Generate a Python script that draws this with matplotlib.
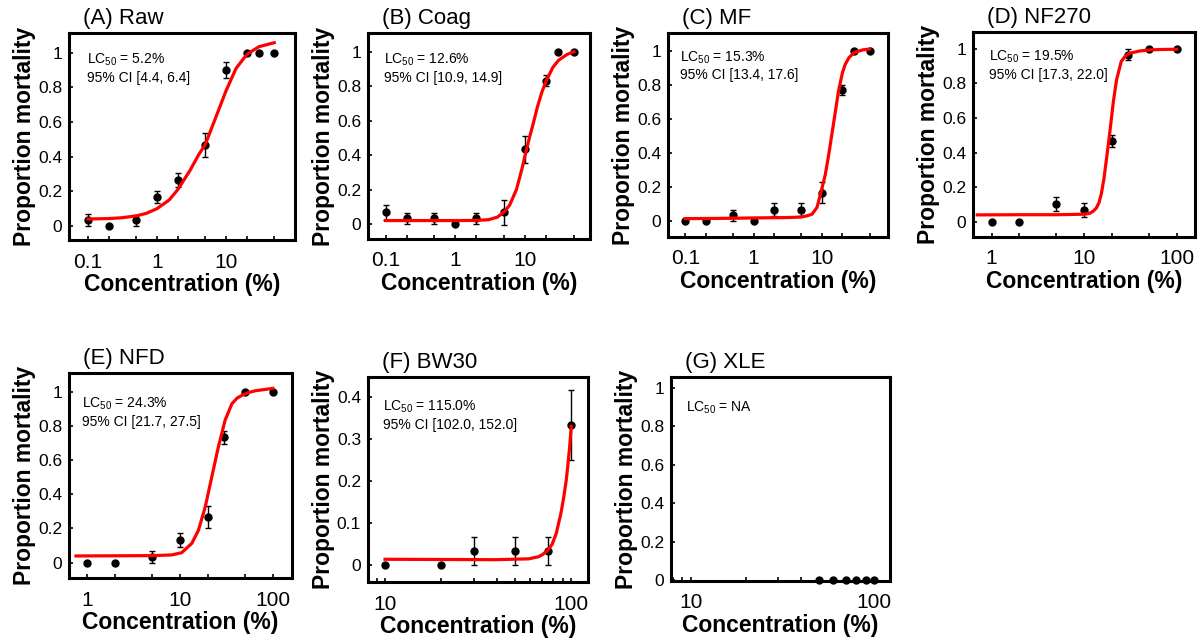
import numpy as np
import matplotlib
matplotlib.use("Agg")
import matplotlib.pyplot as plt
from matplotlib.ticker import LogLocator, NullFormatter

plt.rcParams["font.family"] = ["Liberation Sans", "DejaVu Sans"]
plt.rcParams["mathtext.fontset"] = "custom"
plt.rcParams["mathtext.rm"] = "Liberation Sans"
plt.rcParams["mathtext.default"] = "regular"

# ---- data ----
raw_x = [0.1, 0.2, 0.5, 1, 2, 5, 10, 20, 30, 50]
raw_y = [0.033, 0, 0.033, 0.167, 0.267, 0.467, 0.9, 1, 1, 1]
raw_err = [0.035, 0, 0.033, 0.037, 0.04, 0.07, 0.045, 0, 0, 0]
raw_fit_x = [0.1, 0.2, 0.3, 0.5, 0.7, 1, 1.5, 2, 3, 4, 5, 7, 10, 14, 20, 30, 50]
raw_fit_y = [0.040, 0.043, 0.047, 0.058, 0.073, 0.100, 0.150, 0.210, 0.320,
             0.410, 0.470, 0.620, 0.780, 0.910, 0.990, 1.035, 1.058]

coag_x = [0.1, 0.2, 0.5, 1, 2, 5, 10, 20, 30, 50]
coag_y = [0.067, 0.033, 0.033, 0, 0.033, 0.067, 0.433, 0.833, 1, 1]
coag_err = [0.045, 0.033, 0.033, 0, 0.033, 0.07, 0.08, 0.03, 0, 0]
coag_fit_x = [0.1, 0.5, 1, 2, 3, 4, 5, 6, 7.5, 9, 10, 11.5, 13, 15, 17.5, 20,
              25, 30, 40, 50]
coag_fit_y = [0.02, 0.02, 0.02, 0.021, 0.025, 0.04, 0.07, 0.11, 0.2, 0.32, 0.40,
              0.5, 0.58, 0.68, 0.77, 0.83, 0.91, 0.95, 0.985, 1.0]

mf_x = [0.1, 0.2, 0.5, 1, 2, 5, 10, 20, 30, 50]
mf_y = [0, 0, 0.033, 0, 0.067, 0.067, 0.167, 0.767, 1, 1]
mf_err = [0, 0, 0.033, 0, 0.04, 0.04, 0.06, 0.03, 0, 0]
mf_fit_x = [0.1, 0.5, 1, 3, 5, 6, 7.2, 8.5, 10, 11.2, 12.5, 14.8, 17.5, 20, 22,
            25, 30, 40, 50]
mf_fit_y = [0.014, 0.016, 0.018, 0.02, 0.023, 0.03, 0.04, 0.08, 0.19, 0.27,
            0.38, 0.57, 0.76, 0.87, 0.92, 0.96, 0.99, 1.005, 1.01]

nf270_x = [1, 2, 5, 10, 20, 30, 50, 100]
nf270_y = [0, 0, 0.1, 0.067, 0.467, 0.967, 1, 1]
nf270_err = [0, 0, 0.04, 0.04, 0.035, 0.03, 0, 0]
nf270_fit_x = [0.7, 2, 5, 10, 11.5, 12.5, 13.5, 14.5, 15.4, 16.4, 17.4, 18.9,
               20.6, 22.4, 25.2, 28, 31, 40, 51, 70, 100]
nf270_fit_y = [0.039, 0.04, 0.04, 0.043, 0.048, 0.06, 0.077, 0.11, 0.164, 0.25,
               0.357, 0.51, 0.685, 0.82, 0.927, 0.96, 0.975, 0.988, 0.994,
               0.997, 0.998]

nfd_x = [1, 2, 5, 10, 20, 30, 50, 100]
nfd_y = [0, 0, 0.033, 0.133, 0.267, 0.733, 1, 1]
nfd_err = [0, 0, 0.035, 0.04, 0.065, 0.04, 0, 0]
nfd_fit_x = [0.755, 2, 5, 8.1, 10.4, 13.4, 15.8, 18.7, 22, 25.9, 30.6, 36.2,
             41, 46.6, 55, 64.6, 100]
nfd_fit_y = [0.039, 0.04, 0.041, 0.045, 0.058, 0.113, 0.19, 0.327, 0.503,
             0.678, 0.834, 0.93, 0.962, 0.98, 0.996, 1.006, 1.02]

bw30_x = [10, 20, 30, 50, 75, 100]
bw30_y = [0, 0, 0.033, 0.033, 0.033, 0.333]
bw30_err = [0, 0, 0.033, 0.033, 0.033, 0.083]
bw30_fit_x = [10, 39, 59, 66.7, 70, 75, 79, 83, 88, 91, 94, 96, 98, 100]
bw30_fit_y = [0.014, 0.013, 0.015, 0.02, 0.025, 0.036, 0.05, 0.075, 0.123,
              0.16, 0.202, 0.24, 0.28, 0.33]

xle_x = [50, 60, 70, 80, 90, 100]
xle_y = [0, 0, 0, 0, 0, 0]

titles = ["(A) Raw", "(B) Coag", "(C) MF", "(D) NF270", "(E) NFD", "(F) BW30", "(G) XLE"]
lc50_text = ["5.2%", "12.6%", "15.3%", "19.5%", "24.3%", "115.0%", "NA"]
ci_text = ["95% CI [4.4, 6.4]", "95% CI [10.9, 14.9]", "95% CI [13.4, 17.6]",
           "95% CI [17.3, 22.0]", "95% CI [21.7, 27.5]", "95% CI [102.0, 152.0]", ""]

yticks_full = [0, 0.2, 0.4, 0.6, 0.8, 1]
yticklabels_full = ["0", "0.2", "0.4", "0.6", "0.8", "1"]
yticks_bw30 = [0, 0.1, 0.2, 0.3, 0.4]
yticklabels_bw30 = ["0", "0.1", "0.2", "0.3", "0.4"]
xticks_low = [0.1, 1, 10]
xticklabels_low = ["0.1", "1", "10"]
xticks_mid = [1, 10, 100]
xticklabels_mid = ["1", "10", "100"]
xticks_high = [10, 100]
xticklabels_high = ["10", "100"]

W, H = 1201, 642
fig = plt.figure(figsize=(W / 100, H / 100), dpi=100)


def box(l, t, r, b):
    return [l / W, 1 - b / H, (r - l) / W, (b - t) / H]


panels = [
    dict(pos=box(69, 33, 295, 240), x=raw_x, y=raw_y, err=raw_err, fx=raw_fit_x, fy=raw_fit_y,
         xlim=(0.053, 100), ylim=(-0.081, 1.114), xt=xticks_low, xtl=xticklabels_low,
         yt=yticks_full, ytl=yticklabels_full, subs=(2, 5), tx=0.08, ty=0.87),
    dict(pos=box(368, 33, 590, 239), x=coag_x, y=coag_y, err=coag_err, fx=coag_fit_x, fy=coag_fit_y,
         xlim=(0.056, 85), ylim=(-0.087, 1.109), xt=xticks_low, xtl=xticklabels_low,
         yt=yticks_full, ytl=yticklabels_full, subs=(2, 5), tx=0.072, ty=0.87),
    dict(pos=box(668, 33, 888, 237), x=mf_x, y=mf_y, err=mf_err, fx=mf_fit_x, fy=mf_fit_y,
         xlim=(0.056, 93), ylim=(-0.094, 1.104), xt=xticks_low, xtl=xticklabels_low,
         yt=yticks_full, ytl=yticklabels_full, subs=(2, 5), tx=0.055, ty=0.88),
    dict(pos=box(973, 32, 1195, 237), x=nf270_x, y=nf270_y, err=nf270_err, fx=nf270_fit_x, fy=nf270_fit_y,
         xlim=(0.63, 158), ylim=(-0.089, 1.098), xt=xticks_mid, xtl=xticklabels_mid,
         yt=yticks_full, ytl=yticklabels_full, subs=(2, 5), tx=0.072, ty=0.88),
    dict(pos=box(69, 373, 292, 578), x=nfd_x, y=nfd_y, err=nfd_err, fx=nfd_fit_x, fy=nfd_fit_y,
         xlim=(0.635, 161), ylim=(-0.09, 1.11), xt=xticks_mid, xtl=xticklabels_mid,
         yt=yticks_full, ytl=yticklabels_full, subs=(2, 5), tx=0.058, ty=0.85),
    dict(pos=box(368, 377, 588, 582), x=bw30_x, y=bw30_y, err=bw30_err, fx=bw30_fit_x, fy=bw30_fit_y,
         xlim=(8.1, 123), ylim=(-0.04, 0.447), xt=xticks_high, xtl=xticklabels_high,
         yt=yticks_bw30, ytl=yticklabels_bw30, subs=tuple(range(2, 10)), tx=0.068, ty=0.854),
    dict(pos=box(671, 377, 890, 581), x=xle_x, y=xle_y, err=None, fx=None, fy=None,
         xlim=(7.8, 122), ylim=(-0.005, 1.057), xt=xticks_high, xtl=xticklabels_high,
         yt=yticks_full, ytl=yticklabels_full, subs=tuple(range(2, 10)), tx=0.068, ty=0.85),
]

for i, p in enumerate(panels):
    ax = fig.add_axes(p["pos"])
    ax.set_xscale("log")
    if p["err"] is not None:
        ax.errorbar(p["x"], p["y"], yerr=p["err"], fmt="o", color="black", ms=5,
                    capsize=2.5, elinewidth=1, capthick=1, zorder=2)
    else:
        ax.plot(p["x"], p["y"], "o", color="black", ms=5, zorder=2, clip_on=False)
    if p["fx"] is not None:
        ax.plot(p["fx"], p["fy"], color="#ff0000", lw=2.3, zorder=3)

    ax.set_xlim(p["xlim"])
    ax.set_ylim(p["ylim"])
    ax.set_xticks(p["xt"])
    ax.set_xticklabels(p["xtl"])
    ax.xaxis.set_minor_locator(LogLocator(base=10, subs=p["subs"], numticks=20))
    ax.xaxis.set_minor_formatter(NullFormatter())
    ax.set_yticks(p["yt"])
    ax.set_yticklabels(p["ytl"])

    ax.tick_params(axis="both", which="both", direction="in", length=3, width=1.2)
    ax.tick_params(axis="x", which="major", labelsize=15, pad=9)
    ax.tick_params(axis="y", which="major", labelsize=12.5, pad=5)
    for s in ax.spines.values():
        s.set_linewidth(2.2)

    ax.set_xlabel("Concentration (%)", fontsize=16.5, fontweight="bold", labelpad=1)
    ax.set_ylabel("Proportion mortality", fontsize=16.5, fontweight="bold", labelpad=1.5)

    ax.text(0.063, 1.02, titles[i], transform=ax.transAxes, fontsize=16, va="bottom", ha="left")
    ax.text(p["tx"], p["ty"], "LC$_{50}$ = " + lc50_text[i], transform=ax.transAxes,
            fontsize=10, va="center", ha="left")
    if ci_text[i]:
        ax.text(p["tx"], p["ty"] - 18 / 205, ci_text[i], transform=ax.transAxes,
                fontsize=10, va="center", ha="left")

fig.savefig("out.png", dpi=100)
